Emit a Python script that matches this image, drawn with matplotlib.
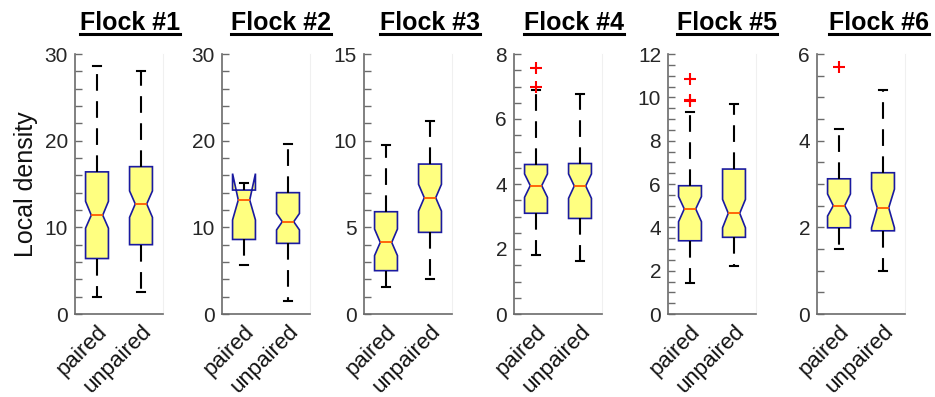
import matplotlib
matplotlib.use('Agg')
import matplotlib.pyplot as plt
from matplotlib.lines import Line2D
from matplotlib.ticker import MultipleLocator

plt.rcParams['font.family'] = ['Liberation Sans', 'DejaVu Sans']

# Данные: по одной паре (paired, unpaired) на стаю
groups = ['paired', 'unpaired']
flocks = ['Flock #1', 'Flock #2', 'Flock #3', 'Flock #4', 'Flock #5', 'Flock #6']

# нижний ус, q1, нижняя граница выемки, медиана, верхняя граница выемки, q3, верхний ус
whislo = [[2.0, 2.5], [5.65, 1.5], [1.54, 2.0], [1.82, 1.63], [1.42, 2.23], [1.49, 1.0]]
q1 = [[6.4, 8.0], [8.6, 8.15], [2.5, 4.71], [3.1, 2.94], [3.38, 3.54], [1.99, 1.92]]
cilo = [[9.9, 11.15], [10.85, 9.7], [3.37, 5.94], [3.59, 3.56], [4.26, 3.98], [2.26, 1.99]]
med = [[11.4, 12.7], [13.15, 10.65], [4.13, 6.71], [3.95, 3.94], [4.85, 4.65], [2.5, 2.45]]
cihi = [[13.0, 14.2], [16.2, 11.6], [4.9, 7.48], [4.31, 4.31], [5.42, 5.29], [2.77, 2.88]]
q3 = [[16.4, 17.0], [14.3, 14.0], [5.9, 8.65], [4.6, 4.63], [5.92, 6.69], [3.12, 3.26]]
whishi = [[28.6, 28.0], [15.15, 19.6], [9.75, 11.15], [6.89, 6.76], [9.34, 9.69], [4.26, 5.17]]
fliers = [[[], []], [[], []], [[], []], [[7.58, 6.97], []],
          [[10.85, 9.9, 9.85], []], [[5.71], []]]

ymax = [30, 30, 15, 8, 12, 6]
ymajor = [10, 10, 5, 2, 2, 2]
yminor = [2, 2, 1, 0.5, 0.5, 0.5]

fig = plt.figure(figsize=(9.35, 3.97), dpi=100)
W, H = 935, 397
lefts = [75, 222, 364, 514, 668, 817]
title_x = [130, 281, 430, 574, 727, 879]

titles = []
for i in range(6):
    ax = fig.add_axes([lefts[i] / W, 83 / H, 88 / W, 260 / H])
    stats = []
    for j in range(2):
        stats.append(dict(med=med[i][j], q1=q1[i][j], q3=q3[i][j],
                          whislo=whislo[i][j], whishi=whishi[i][j],
                          cilo=cilo[i][j], cihi=cihi[i][j],
                          fliers=fliers[i][j], label=groups[j]))
    ax.bxp(stats, positions=[1, 2], widths=0.52, shownotches=True,
           patch_artist=True, capwidths=0.16,
           boxprops=dict(facecolor='#ffff80', edgecolor='#1a1aa0', linewidth=1.2),
           medianprops=dict(color='#ff5a00', linewidth=1.3),
           whiskerprops=dict(color='black', linewidth=1.5, linestyle=(0, (8, 5))),
           capprops=dict(color='black', linewidth=1.5),
           flierprops=dict(marker='+', markeredgecolor='red', markersize=9,
                           markeredgewidth=1.5, linestyle='none'))
    ax.set_xlim(0.5, 2.5)
    ax.set_ylim(0, ymax[i])
    ax.yaxis.set_major_locator(MultipleLocator(ymajor[i]))
    ax.yaxis.set_minor_locator(MultipleLocator(yminor[i]))
    ax.spines['top'].set_visible(False)
    ax.spines['right'].set_color('#f0f0f0')
    ax.spines['right'].set_linewidth(0.8)
    for s in ['left', 'bottom']:
        ax.spines[s].set_color('#6b6b6b')
        ax.spines[s].set_linewidth(1.2)
    ax.tick_params(axis='y', which='both', direction='in', length=5,
                   width=1, color='#6b6b6b', labelsize=15, labelcolor='#262626', pad=5)
    ax.tick_params(axis='x', length=0, labelsize=16, labelcolor='#111111', pad=5)
    ax.set_xticks([1, 2])
    ax.set_xticklabels(groups, rotation=45, ha='right', rotation_mode='anchor')
    t = fig.text(title_x[i] / W, 1 - 30 / H, flocks[i], fontsize=18,
                 fontweight='bold', ha='center', va='baseline')
    titles.append(t)
    if i == 0:
        ax.set_ylabel('Local density', fontsize=18, color='#111111', labelpad=5)

# подчёркивание заголовков
fig.canvas.draw()
r = fig.canvas.get_renderer()
for t in titles:
    bb = t.get_window_extent(r)
    y = 1 - 34 / H
    fig.add_artist(Line2D([bb.x0 / W, bb.x1 / W], [y, y], color='black',
                          linewidth=2.2, transform=fig.transFigure))

fig.savefig('out.png', dpi=100)
